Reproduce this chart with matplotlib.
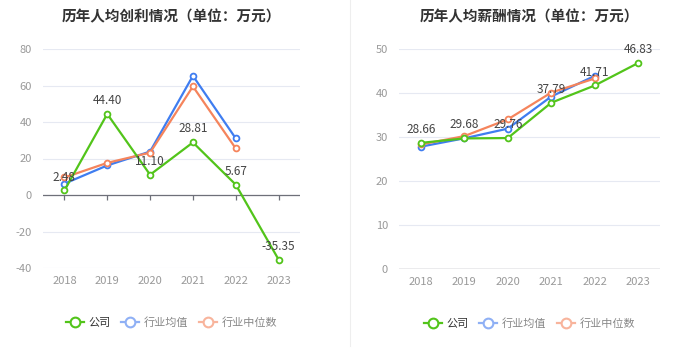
import matplotlib
matplotlib.use('Agg')
import matplotlib.pyplot as plt
from matplotlib.lines import Line2D
import matplotlib.transforms as mtransforms

plt.rcParams['font.family'] = ['Noto Sans CJK SC', 'DejaVu Sans']
plt.rcParams['axes.unicode_minus'] = False

years = ['2018', '2019', '2020', '2021', '2022', '2023']

# 人均创利
profit_company = [2.48, 44.40, 11.10, 28.81, 5.67, -35.35]
profit_mean = [6.2, 16.2, 23.8, 65.3, 31.0]
profit_median = [9.6, 17.6, 23.2, 59.5, 25.5]

# 人均薪酬
salary_company = [28.66, 29.68, 29.76, 37.79, 41.71, 46.83]
salary_mean = [27.8, 29.7, 31.9, 39.2, 43.9]
salary_median = [28.3, 30.2, 34.0, 40.1, 43.3]

titles = ['历年人均创利情况（单位：万元）', '历年人均薪酬情况（单位：万元）']
legend_names = ['公司', '行业均值', '行业中位数']

green = '#52c41a'
blue = '#3f7df0'
orange = '#f5845c'
grid_c = '#e6e9f2'
axis_c = '#6e7079'
tick_c = '#999999'

fig = plt.figure(figsize=(7, 3.6), dpi=100)


def draw(ax, company, mean, median, ylim, yticks, title):
    x = list(range(len(years)))
    ax.set_xlim(-0.5, len(years) - 0.5)
    ax.set_ylim(*ylim)
    ax.set_yticks(yticks)
    ax.set_xticks(x)
    ax.set_xticklabels(years)
    for s in ax.spines.values():
        s.set_visible(False)
    ax.grid(axis='y', color=grid_c, linewidth=0.8)
    ax.set_axisbelow(True)
    ax.tick_params(axis='both', length=0, labelsize=8, labelcolor=tick_c)
    ax.tick_params(axis='x', pad=6)
    ax.tick_params(axis='y', pad=8)

    # category axis line at zero
    ax.axhline(0, color=axis_c, linewidth=0.9, zorder=2)
    trans = mtransforms.blended_transform_factory(ax.transData, ax.transData)
    tick_len = (ylim[1] - ylim[0]) * 0.022
    ax.vlines(x, 0 - tick_len, 0, color=axis_c, linewidth=0.9, transform=trans, zorder=2)

    kw = dict(linewidth=1.6, marker='o', markersize=4.2, markerfacecolor='white',
              markeredgewidth=1.3, zorder=3)
    ax.plot(x[:len(mean)], mean, color=blue, **kw)
    ax.plot(x[:len(median)], median, color=orange, **kw)
    ax.plot(x, company, color=green, **kw)

    for xi, v in zip(x, company):
        ax.annotate(f'{v:.2f}', (xi, v), xytext=(0, 5), textcoords='offset points',
                    ha='center', va='bottom', fontsize=8.5, color='#444444', zorder=4)

    ax.set_title(title, fontsize=10.5, fontweight='bold', color='#333333', pad=20)

    handles = [
        Line2D([], [], color=green, linewidth=1.6, marker='o', markersize=7,
               markerfacecolor='white', markeredgewidth=1.5),
        Line2D([], [], color='#8fb0f5', linewidth=1.6, marker='o', markersize=7,
               markerfacecolor='white', markeredgewidth=1.5),
        Line2D([], [], color='#f8b49c', linewidth=1.6, marker='o', markersize=7,
               markerfacecolor='white', markeredgewidth=1.5),
    ]
    leg = ax.legend(handles, legend_names, loc='upper center', bbox_to_anchor=(0.5, -0.18),
                    ncol=3, frameon=False, fontsize=8, handlelength=1.6,
                    handletextpad=0.4, columnspacing=1.0)
    for i, t in enumerate(leg.get_texts()):
        t.set_color('#333333' if i == 0 else '#888888')


ax1 = fig.add_axes([43 / 700, 1 - 268 / 360, 257 / 700, 219 / 360])
draw(ax1, profit_company, profit_mean, profit_median, (-40, 80),
     [-40, -20, 0, 20, 40, 60, 80], titles[0])

ax2 = fig.add_axes([399 / 700, 1 - 269 / 360, 261 / 700, 220 / 360])
draw(ax2, salary_company, salary_mean, salary_median, (0, 50),
     [0, 10, 20, 30, 40, 50], titles[1])

fig.add_artist(Line2D([0.5, 0.5], [0.04, 1.0], color='#eeeeee', linewidth=0.8))

fig.savefig('out.png', dpi=100)
